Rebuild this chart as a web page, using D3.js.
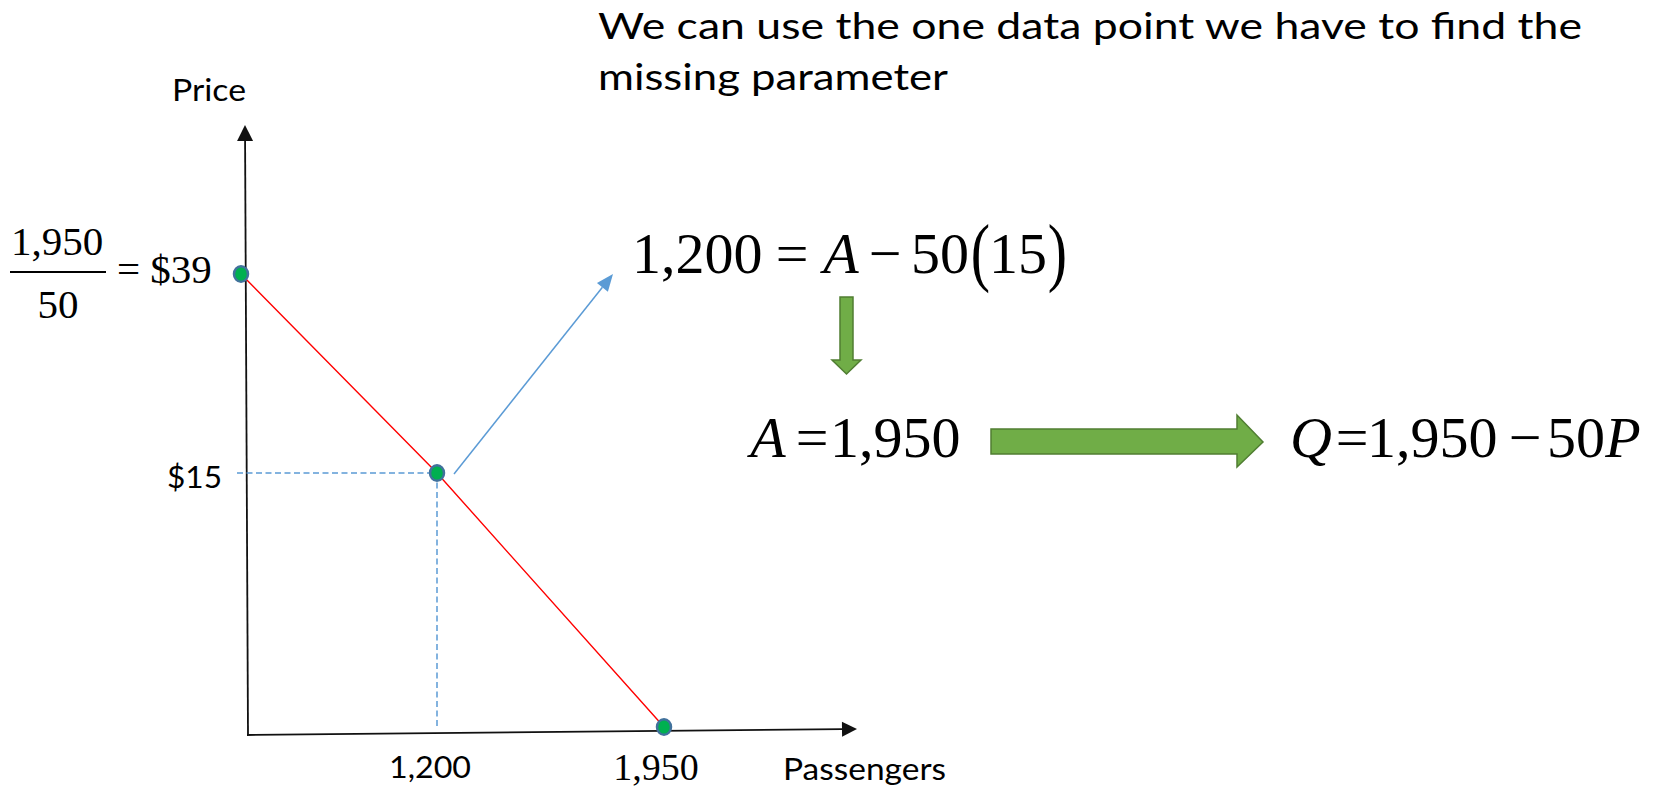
<!DOCTYPE html>
<html>
<head>
<meta charset="utf-8">
<script src="https://cdn.jsdelivr.net/npm/d3@7"></script>
<style>
  html, body { margin: 0; padding: 0; background: #fff; }
  svg { display: block; }
</style>
</head>
<body>
<svg id="chart" width="1665" height="792"></svg>
<script>
// Linear demand Q = A - 50P, sketched with three known points
const quantities = [0, 1200, 1950];      // passengers
const prices     = [39, 15, 0];          // $ per ticket
const qTickValues = [1200, 1950];
const qTickLabels = ["1,200", "1,950"];
const pTickValues = [15];
const pTickLabels = ["$15"];
const observedPoint = { q: 1200, p: 15 };

const titleLines = [
  "We can use the one data point we have to find the",
  "missing parameter"
];

const SANS  = "Lato, 'Open Sans', 'DejaVu Sans', sans-serif";
const SERIF = "'Liberation Serif', 'Times New Roman', serif";

const svg = d3.select("#chart");

// Hand-sketched diagram: piecewise scales keep the schematic spacing
const x = d3.scaleLinear().domain([0, 1200, 1950]).range([241, 437, 664]);
const y = d3.scaleLinear().domain([0, 15, 39]).range([727, 473, 274]);

const data = quantities.map((q, i) => ({ q, p: prices[i] }));

// ---- title ----
const titleY = [39, 90];
const titleW = [984, 350];
titleLines.forEach((t, i) => {
  svg.append("text")
    .attr("x", 598).attr("y", titleY[i])
    .attr("font-family", SANS).attr("font-size", 36)
    .attr("textLength", titleW[i]).attr("lengthAdjust", "spacingAndGlyphs")
    .attr("fill", "#000")
    .text(t);
});

// ---- axes (arrows) ----
const axisColor = "#111";
const yAxisBottom = [248, 735], yAxisTop = [245, 125];
const xAxisLeft = [247, 735], xAxisRight = [857, 729];

function arrowHead(g, from, to, len, half, fill) {
  const dx = to[0] - from[0], dy = to[1] - from[1];
  const L = Math.hypot(dx, dy), ux = dx / L, uy = dy / L;
  const bx = to[0] - ux * len, by = to[1] - uy * len;
  const px = -uy * half, py = ux * half;
  g.append("path")
    .attr("d", `M${to[0]},${to[1]}L${bx + px},${by + py}L${bx - px},${by - py}Z`)
    .attr("fill", fill);
  return [bx, by];
}

const axes = svg.append("g");
{
  const base = arrowHead(axes, yAxisBottom, yAxisTop, 16, 8, axisColor);
  axes.append("line")
    .attr("x1", yAxisBottom[0]).attr("y1", yAxisBottom[1])
    .attr("x2", base[0]).attr("y2", base[1])
    .attr("stroke", axisColor).attr("stroke-width", 1.8);
}
{
  const base = arrowHead(axes, xAxisLeft, xAxisRight, 15, 7.5, axisColor);
  axes.append("line")
    .attr("x1", xAxisLeft[0]).attr("y1", xAxisLeft[1])
    .attr("x2", base[0]).attr("y2", base[1])
    .attr("stroke", axisColor).attr("stroke-width", 1.8);
}

// ---- dashed guides to the observed point ----
const blue = "#5B9BD5";
svg.append("line")
  .attr("x1", 237).attr("y1", y(observedPoint.p))
  .attr("x2", x(observedPoint.q)).attr("y2", y(observedPoint.p))
  .attr("stroke", blue).attr("stroke-width", 1.5).attr("stroke-dasharray", "6,3.5");
svg.append("line")
  .attr("x1", x(observedPoint.q)).attr("y1", y(observedPoint.p))
  .attr("x2", x(observedPoint.q)).attr("y2", 729)
  .attr("stroke", blue).attr("stroke-width", 1.5).attr("stroke-dasharray", "6,3.5");

// ---- demand line ----
svg.append("path")
  .datum(data)
  .attr("d", d3.line().x(d => x(d.q)).y(d => y(d.p)))
  .attr("fill", "none").attr("stroke", "#FF0000").attr("stroke-width", 1.4);

// ---- pointer from the observed point to the equation ----
{
  const from = [x(observedPoint.q) + 17, y(observedPoint.p) + 1];
  const to = [613, 274];
  const g = svg.append("g");
  const base = arrowHead(g, from, to, 17, 7, blue);
  g.append("line")
    .attr("x1", from[0]).attr("y1", from[1])
    .attr("x2", base[0]).attr("y2", base[1])
    .attr("stroke", blue).attr("stroke-width", 1.5);
}

// ---- points ----
svg.append("g").selectAll("ellipse")
  .data(data)
  .join("ellipse")
  .attr("cx", d => x(d.q)).attr("cy", d => y(d.p))
  .attr("rx", 7).attr("ry", 7.8)
  .attr("fill", "#00B050").attr("stroke", "#41719C").attr("stroke-width", 2.5);

// ---- axis labels ----
svg.append("text")
  .attr("x", 172).attr("y", 101)
  .attr("font-family", SANS).attr("font-size", 30.5)
  .attr("textLength", 74).attr("lengthAdjust", "spacingAndGlyphs")
  .text("Price");
svg.append("text")
  .attr("x", 783).attr("y", 780)
  .attr("font-family", SANS).attr("font-size", 30.5)
  .attr("textLength", 163).attr("lengthAdjust", "spacingAndGlyphs")
  .text("Passengers");

// price tick label
pTickValues.forEach((v, i) => {
  svg.append("text")
    .attr("x", 167).attr("y", y(v) + 15)
    .attr("font-family", SANS).attr("font-size", 30.5)
    .attr("textLength", 55).attr("lengthAdjust", "spacingAndGlyphs")
    .text(pTickLabels[i]);
});

// quantity tick labels: first in plain sans, the intercept in math serif
svg.append("text")
  .attr("x", x(qTickValues[0]) - 48).attr("y", 778)
  .attr("font-family", SANS).attr("font-size", 30.5)
  .attr("textLength", 82).attr("lengthAdjust", "spacingAndGlyphs")
  .text(qTickLabels[0]);
svg.append("text")
  .attr("x", x(qTickValues[1]) - 8).attr("y", 780)
  .attr("text-anchor", "middle")
  .attr("font-family", SERIF).attr("font-size", 38)
  .text(qTickLabels[1]);

// ---- price intercept: 1,950 / 50 = $39 ----
const frac = svg.append("g").attr("font-family", SERIF).attr("fill", "#000");
frac.append("text").attr("x", 57).attr("y", 255).attr("text-anchor", "middle")
  .attr("font-size", 41).text("1,950");
frac.append("line").attr("x1", 10).attr("x2", 106).attr("y1", 272).attr("y2", 272)
  .attr("stroke", "#000").attr("stroke-width", 2);
frac.append("text").attr("x", 58).attr("y", 318).attr("text-anchor", "middle")
  .attr("font-size", 41).text("50");
frac.append("text").attr("x", 128.5).attr("y", 283).attr("text-anchor", "middle")
  .attr("font-size", 41).text("=");
frac.append("text").attr("x", 181).attr("y", y(prices[0]) + 9).attr("text-anchor", "middle")
  .attr("font-size", 41).text("$39");

// ---- equations ----
function token(g, str, xPos, yPos, anchor, italic, size) {
  return g.append("text")
    .attr("x", xPos).attr("y", yPos)
    .attr("text-anchor", anchor)
    .attr("font-family", SERIF).attr("font-size", size || 58)
    .attr("font-style", italic ? "italic" : "normal")
    .text(str);
}
function paren(g, str, cx, cy) {
  const pg = g.append("g").attr("transform", `translate(${cx},${cy}) scale(1,1.33)`);
  pg.append("text").attr("x", 0).attr("y", 14.5).attr("text-anchor", "middle")
    .attr("font-family", SERIF).attr("font-size", 58).text(str);
}

const eq = svg.append("g").attr("fill", "#000");
// 1,200 = A - 50(15)
token(eq, "1,200", 632, 273, "start");
token(eq, "=", 792, 273, "middle");
token(eq, "A", 841, 273, "middle", true);
token(eq, "\u2212", 885, 273, "middle");
token(eq, "50", 940, 273, "middle");
paren(eq, "(", 980.5, 257.5);
token(eq, "15", 1018, 273, "middle");
paren(eq, ")", 1057.5, 257.5);

// A = 1,950
token(eq, "A", 768, 457, "middle", true);
token(eq, "=", 812, 457, "middle");
token(eq, "1,950", 830, 457, "start");

// Q = 1,950 - 50P
token(eq, "Q", 1311, 457, "middle", true);
token(eq, "=", 1352, 457, "middle");
token(eq, "1,950", 1367, 457, "start");
token(eq, "\u2212", 1525, 457, "middle");
token(eq, "50", 1547, 457, "start");
token(eq, "P", 1623, 457, "middle", true);

// ---- block arrows ----
const green = "#70AD47", greenEdge = "#507E32";
svg.append("path")
  .attr("d", "M840,297L853,297L853,360L861,360L846.5,374L832,360L840,360Z")
  .attr("fill", green).attr("stroke", greenEdge).attr("stroke-width", 1.5);
svg.append("path")
  .attr("d", "M991,429L1237,429L1237,415L1263,442L1237,467L1237,454L991,454Z")
  .attr("fill", green).attr("stroke", greenEdge).attr("stroke-width", 1.5);
</script>
</body>
</html>
